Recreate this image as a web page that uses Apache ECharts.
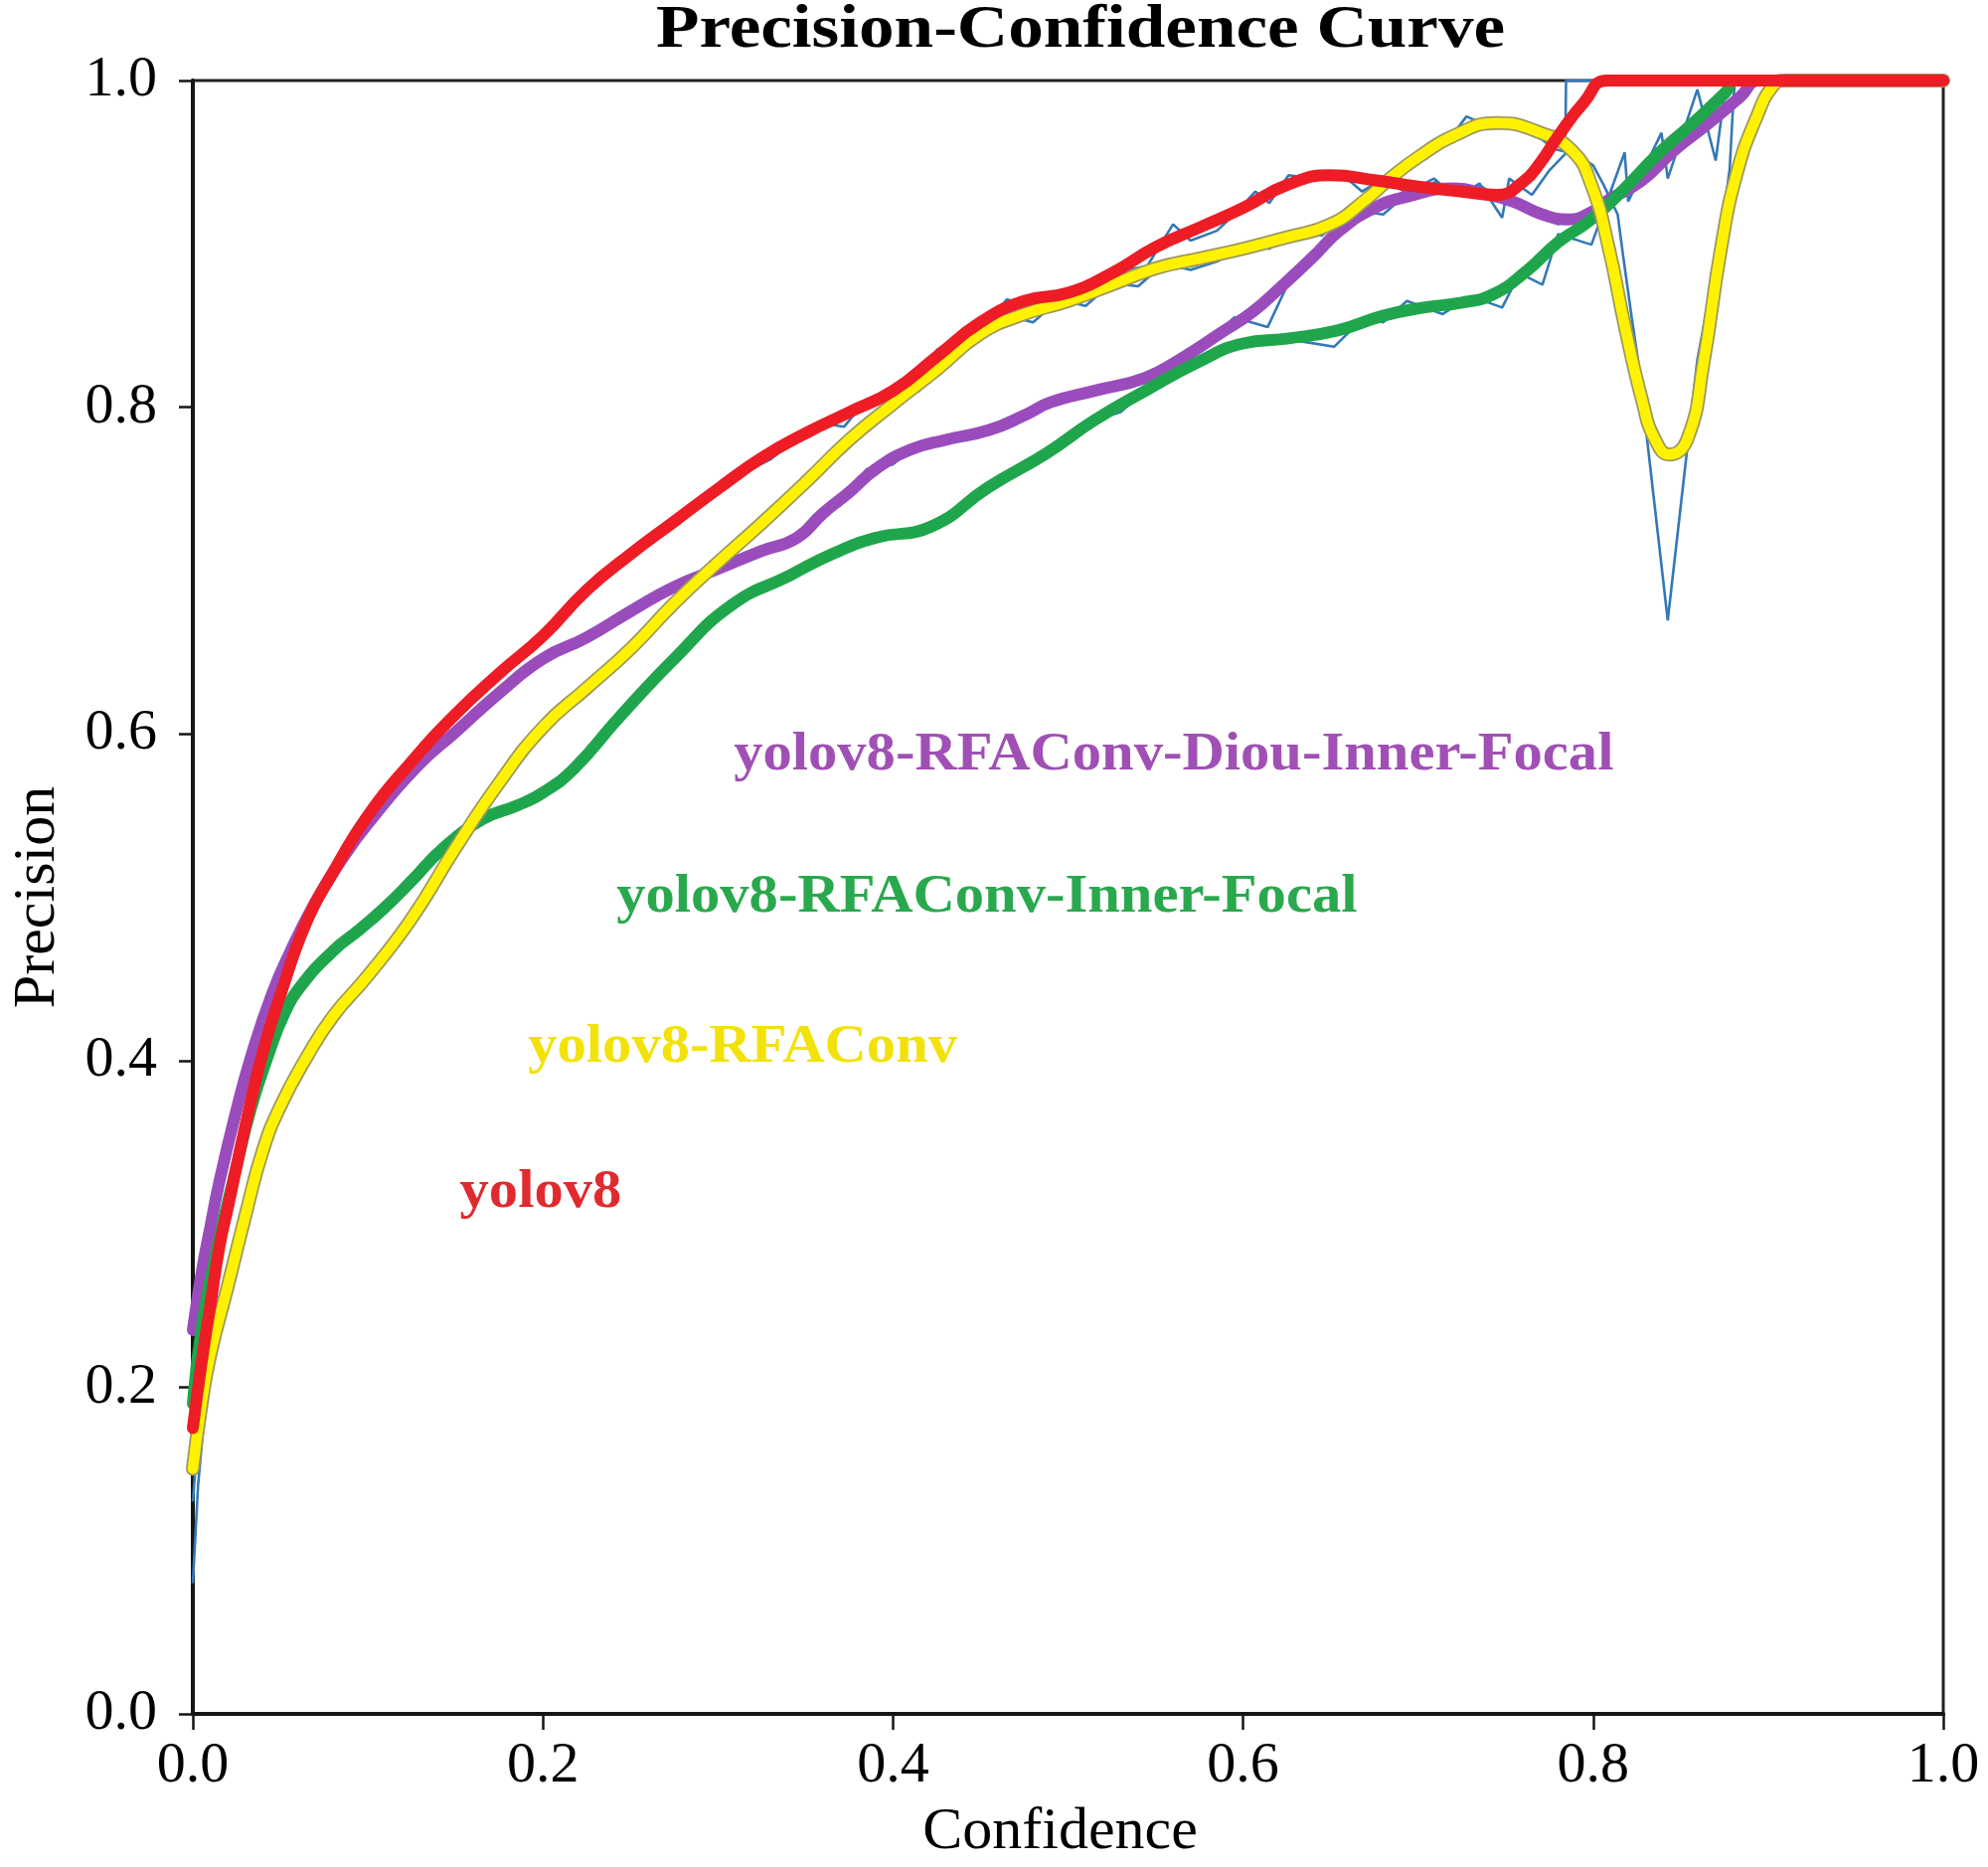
<!DOCTYPE html>
<html>
<head>
<meta charset="utf-8">
<script src="https://cdn.jsdelivr.net/npm/echarts@6/dist/echarts.min.js"></script>
<style>html,body{margin:0;padding:0;background:#fff}#c{width:2000px;height:1878px}</style>
</head>
<body>
<div id="c"></div>
<script>
// ---- tick labels ----
const xTickValues = [0, 0.2, 0.4, 0.6, 0.8, 1.0];
const yTickValues = [0, 0.2, 0.4, 0.6, 0.8, 1.0];

// ---- smoothed curves [confidence, precision] ----
const yolov8 = [[0,0.175],[0.005,0.215],[0.01,0.25],[0.015,0.285],[0.02,0.31],[0.03,0.36],[0.04,0.405],[0.05,0.44],[0.065,0.485],[0.08,0.515],[0.1,0.55],[0.125,0.583],[0.15,0.612],[0.175,0.637],[0.2,0.66],[0.225,0.688],[0.25,0.71],[0.275,0.73],[0.3,0.75],[0.325,0.769],[0.35,0.784],[0.375,0.797],[0.4,0.81],[0.425,0.831],[0.45,0.852],[0.475,0.865],[0.5,0.87],[0.525,0.882],[0.55,0.898],[0.575,0.91],[0.6,0.922],[0.625,0.936],[0.65,0.942],[0.675,0.939],[0.7,0.935],[0.725,0.932],[0.745,0.93],[0.76,0.938],[0.77,0.95],[0.78,0.966],[0.795,0.987],[0.808,1.0],[1.0,1.0]];

const yolov8RFAConv = [[0,0.15],[0.005,0.19],[0.01,0.22],[0.02,0.262],[0.03,0.305],[0.04,0.345],[0.05,0.372],[0.065,0.402],[0.08,0.427],[0.1,0.452],[0.125,0.487],[0.15,0.53],[0.175,0.57],[0.2,0.604],[0.225,0.628],[0.25,0.652],[0.275,0.68],[0.3,0.705],[0.325,0.729],[0.35,0.754],[0.375,0.78],[0.4,0.802],[0.425,0.823],[0.45,0.845],[0.475,0.857],[0.5,0.865],[0.525,0.875],[0.55,0.885],[0.575,0.891],[0.6,0.897],[0.625,0.904],[0.65,0.912],[0.67,0.927],[0.685,0.941],[0.7,0.953],[0.72,0.966],[0.745,0.974],[0.77,0.968],[0.788,0.957],[0.799,0.936],[0.809,0.897],[0.818,0.85],[0.828,0.804],[0.835,0.781],[0.8435,0.771],[0.854,0.781],[0.863,0.827],[0.873,0.897],[0.882,0.943],[0.8935,0.978],[0.903,0.997],[0.91,1.0],[1.0,1.0]];

const yolov8InnerFocal = [[0,0.19],[0.0055,0.239],[0.015,0.29],[0.0243,0.332],[0.033,0.37],[0.043,0.403],[0.052,0.428],[0.062,0.446],[0.081,0.468],[0.095,0.48],[0.109,0.493],[0.125,0.51],[0.143,0.53],[0.166,0.548],[0.185,0.556],[0.2,0.564],[0.218,0.579],[0.2435,0.61],[0.276,0.647],[0.308,0.679],[0.341,0.697],[0.365,0.71],[0.39,0.72],[0.422,0.727],[0.4545,0.751],[0.488,0.772],[0.515,0.792],[0.544,0.81],[0.575,0.828],[0.6,0.839],[0.625,0.842],[0.654,0.847],[0.68,0.856],[0.703,0.861],[0.725,0.864],[0.7426,0.869],[0.7615,0.883],[0.78,0.901],[0.799,0.915],[0.818,0.934],[0.837,0.955],[0.856,0.973],[0.875,0.992],[0.882,1.0],[1.0,1.0]];

const yolov8DiouInnerFocal = [[0,0.235],[0.005,0.27],[0.01,0.298],[0.015,0.325],[0.025,0.37],[0.034,0.405],[0.045,0.44],[0.055,0.465],[0.07,0.497],[0.085,0.523],[0.1,0.545],[0.128,0.58],[0.15,0.601],[0.175,0.625],[0.2,0.646],[0.225,0.659],[0.25,0.675],[0.275,0.69],[0.3,0.701],[0.325,0.712],[0.345,0.72],[0.36,0.735],[0.375,0.748],[0.39,0.762],[0.41,0.774],[0.43,0.78],[0.455,0.786],[0.475,0.795],[0.49,0.803],[0.515,0.81],[0.544,0.818],[0.565,0.83],[0.588,0.846],[0.605,0.858],[0.621,0.873],[0.64,0.892],[0.655,0.908],[0.675,0.922],[0.694,0.929],[0.72,0.934],[0.74,0.93],[0.754,0.926],[0.771,0.918],[0.786,0.915],[0.8,0.92],[0.809,0.927],[0.8275,0.9385],[0.846,0.957],[0.865,0.973],[0.884,0.99],[0.895,1.0],[1.0,1.0]];

// ---- raw (unsmoothed) curves, thin blue ----
const rawYolov8 = [[0,0.13],[0.005,0.2],[0.01,0.245],[0.02,0.31],[0.04,0.405],[0.06,0.47],[0.08,0.515],[0.1,0.55],[0.125,0.583],[0.15,0.612],[0.175,0.637],[0.2,0.66],[0.225,0.688],[0.25,0.712],[0.275,0.728],[0.3,0.75],[0.315,0.76],[0.33,0.768],[0.345,0.781],[0.36,0.79],[0.372,0.788],[0.385,0.805],[0.4,0.81],[0.412,0.812],[0.425,0.835],[0.44,0.846],[0.452,0.848],[0.465,0.866],[0.48,0.862],[0.5,0.872],[0.515,0.876],[0.53,0.884],[0.545,0.886],[0.56,0.912],[0.57,0.902],[0.585,0.908],[0.595,0.918],[0.607,0.932],[0.615,0.925],[0.626,0.942],[0.64,0.94],[0.655,0.944],[0.668,0.932],[0.68,0.94],[0.695,0.93],[0.71,0.938],[0.725,0.93],[0.735,0.937],[0.748,0.916],[0.752,0.94],[0.765,0.93],[0.775,0.945],[0.784,0.955],[0.7845,1.0],[1.0,1.0]];

const rawYolov8RFAConv = [[0,0.08],[0.003,0.14],[0.008,0.2],[0.015,0.24],[0.025,0.285],[0.04,0.345],[0.06,0.395],[0.08,0.427],[0.1,0.452],[0.125,0.487],[0.15,0.53],[0.175,0.57],[0.2,0.604],[0.225,0.628],[0.25,0.652],[0.275,0.68],[0.3,0.705],[0.325,0.729],[0.35,0.754],[0.375,0.78],[0.39,0.79],[0.4,0.802],[0.415,0.81],[0.425,0.823],[0.44,0.842],[0.45,0.845],[0.465,0.856],[0.48,0.852],[0.495,0.866],[0.51,0.862],[0.525,0.876],[0.54,0.874],[0.555,0.888],[0.57,0.884],[0.586,0.8895],[0.6,0.9],[0.615,0.897],[0.63,0.908],[0.645,0.905],[0.66,0.92],[0.675,0.93],[0.69,0.945],[0.703,0.958],[0.715,0.96],[0.7276,0.978],[0.74,0.972],[0.755,0.975],[0.768,0.966],[0.778,0.958],[0.79,0.955],[0.8,0.948],[0.806,0.936],[0.814,0.918],[0.817,0.8935],[0.822,0.855],[0.8256,0.829],[0.8426,0.6695],[0.8595,0.829],[0.873,0.906],[0.878,0.946],[0.88,0.9865],[0.881,1.0],[1.0,1.0]];

const rawYolov8InnerFocal = [[0,0.15],[0.0055,0.235],[0.015,0.292],[0.0243,0.33],[0.043,0.405],[0.062,0.446],[0.081,0.468],[0.109,0.493],[0.143,0.53],[0.166,0.548],[0.2,0.564],[0.218,0.579],[0.2435,0.612],[0.276,0.647],[0.308,0.679],[0.341,0.697],[0.39,0.72],[0.422,0.728],[0.45,0.748],[0.465,0.76],[0.48,0.764],[0.5,0.781],[0.515,0.792],[0.53,0.797],[0.544,0.81],[0.56,0.818],[0.575,0.826],[0.59,0.836],[0.605,0.838],[0.62,0.842],[0.635,0.84],[0.652,0.837],[0.669,0.855],[0.68,0.852],[0.6936,0.865],[0.714,0.857],[0.73,0.868],[0.748,0.861],[0.758,0.882],[0.771,0.875],[0.78,0.906],[0.799,0.8995],[0.818,0.956],[0.82,0.926],[0.839,0.968],[0.8426,0.94],[0.8595,0.9945],[0.87,0.951],[0.876,1.0],[1.0,1.0]];

const rawYolov8DiouInnerFocal = [[0,0.2],[0.005,0.262],[0.01,0.3],[0.015,0.328],[0.025,0.375],[0.035,0.41],[0.055,0.466],[0.085,0.523],[0.1,0.545],[0.128,0.58],[0.15,0.601],[0.175,0.625],[0.2,0.646],[0.225,0.659],[0.25,0.675],[0.275,0.69],[0.3,0.701],[0.32,0.712],[0.34,0.716],[0.355,0.734],[0.37,0.74],[0.385,0.762],[0.4,0.765],[0.415,0.778],[0.43,0.78],[0.45,0.783],[0.47,0.795],[0.49,0.803],[0.515,0.81],[0.544,0.818],[0.565,0.832],[0.58,0.84],[0.595,0.855],[0.614,0.849],[0.628,0.881],[0.64,0.89],[0.655,0.905],[0.668,0.92],[0.68,0.918],[0.695,0.932],[0.709,0.94],[0.72,0.93],[0.735,0.936],[0.75,0.925],[0.765,0.922],[0.78,0.912],[0.795,0.918],[0.81,0.928],[0.828,0.94],[0.846,0.957],[0.865,0.972],[0.884,0.99],[0.895,1.0],[1.0,1.0]];

// ---- in-plot series labels (anchored in data units: left edge, vertical centre) ----
const labelTexts = ['yolov8-RFAConv-Diou-Inner-Focal', 'yolov8-RFAConv-Inner-Focal', 'yolov8-RFAConv', 'yolov8'];
const labelAnchorX = [0.309, 0.242, 0.1915, 0.1525];
const labelAnchorY = [0.5866, 0.4994, 0.4075, 0.319];
const labelColors = ['#a050b4', '#2aa84e', '#f2e20a', '#e02a30'];

const FONT = "'Liberation Serif', 'Times New Roman', serif";
const BLUE = '#3479b6';

const chart = echarts.init(document.getElementById('c'), null, { renderer: 'canvas' });

function rawSeries(name, data) {
  return { name, type: 'line', data, showSymbol: false, smooth: false, z: 2,
    lineStyle: { color: BLUE, width: 2.6 }, silent: true, animation: false };
}
function thickSeries(name, data, color, z, width) {
  return { name, type: 'line', data, showSymbol: false, smooth: 0.5, z,
    lineStyle: { color, width, cap: 'round', join: 'round' }, silent: true, animation: false };
}

chart.setOption({
  animation: false,
  backgroundColor: '#ffffff',
  grid: { left: 187, right: 45, top: 81, bottom: 147, show: true, borderColor: '#222', borderWidth: 3, backgroundColor: 'transparent' },
  xAxis: {
    type: 'value', min: 0, max: 1, interval: 0.2,
    axisLine: { show: true, lineStyle: { color: '#151515', width: 4 } },
    axisTick: { show: true, inside: false, length: 16, lineStyle: { color: '#151515', width: 2.5 } },
    splitLine: { show: false },
    axisLabel: { margin: 24, fontSize: 58, fontFamily: FONT, color: '#000',
      formatter: v => xTickValues.indexOf(Math.round(v * 10) / 10) >= 0 ? v.toFixed(1) : '' },
    name: 'Confidence', nameLocation: 'middle', nameGap: 89,
    nameTextStyle: { fontSize: 60, fontFamily: FONT, color: '#000', padding: [0, 16, 0, 0] }
  },
  yAxis: {
    type: 'value', min: 0, max: 1, interval: 0.2,
    axisLine: { show: true, lineStyle: { color: '#151515', width: 4 } },
    axisTick: { show: true, inside: false, length: 14, lineStyle: { color: '#151515', width: 2.5 } },
    splitLine: { show: false },
    axisLabel: { margin: 36, fontSize: 58, fontFamily: FONT, color: '#000',
      formatter: v => yTickValues.indexOf(Math.round(v * 10) / 10) >= 0 ? v.toFixed(1) : '' },
    name: 'Precision', nameLocation: 'middle', nameGap: 126,
    nameTextStyle: { fontSize: 60, fontFamily: FONT, color: '#000' }
  },
  series: [
    rawSeries('raw yolov8-RFAConv-Diou-Inner-Focal', rawYolov8DiouInnerFocal),
    rawSeries('raw yolov8-RFAConv-Inner-Focal', rawYolov8InnerFocal),
    rawSeries('raw yolov8-RFAConv', rawYolov8RFAConv),
    rawSeries('raw yolov8', rawYolov8),
    thickSeries('yolov8-RFAConv-Diou-Inner-Focal', yolov8DiouInnerFocal, '#9a4cbc', 3, 12),
    thickSeries('yolov8-RFAConv-Inner-Focal', yolov8InnerFocal, '#1fa64c', 4, 12),
    thickSeries('yolov8-RFAConv outline', yolov8RFAConv, '#9c9860', 5, 14),
    thickSeries('yolov8-RFAConv', yolov8RFAConv, '#fff200', 6, 10.5),
    thickSeries('yolov8', yolov8, '#ee1c25', 7, 12)
  ]
});

// title + in-plot labels
const graphics = [{
  type: 'text', x: 1087, y: 1, scaleX: 1.166, z: 100,
  style: { text: 'Precision-Confidence Curve', font: "bold 61px " + FONT, fill: '#000',
    textAlign: 'center', textVerticalAlign: 'top' }
}];
labelTexts.forEach((t, i) => {
  const p = chart.convertToPixel({ gridIndex: 0 }, [labelAnchorX[i], labelAnchorY[i]]);
  graphics.push({
    type: 'text', x: p[0], y: p[1], scaleX: 1.085, z: 100,
    style: { text: t, font: "bold 54px " + FONT, fill: labelColors[i],
      textAlign: 'left', textVerticalAlign: 'middle' }
  });
});
chart.setOption({ graphic: graphics });
</script>
</body>
</html>
